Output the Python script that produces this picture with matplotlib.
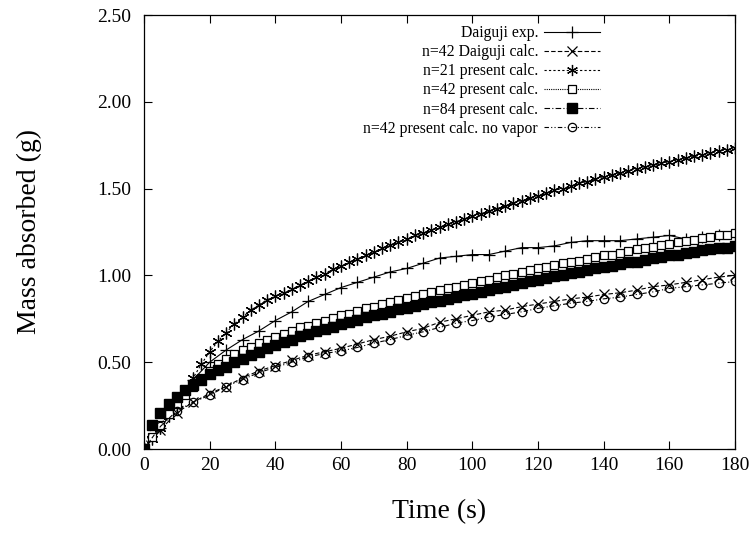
import numpy as np
import matplotlib
matplotlib.use('Agg')
import matplotlib.pyplot as plt
from matplotlib.lines import Line2D

plt.rcParams['font.family'] = ['Liberation Serif', 'DejaVu Serif']

# tempos (s)
t_fino = np.arange(0, 180.1, 2.5)   # 73 pontos
t_grosso = np.arange(0, 180.1, 5)   # 37 pontos

daiguji_exp = [0.00, 0.12, 0.25, 0.40, 0.50, 0.57, 0.63, 0.68, 0.74, 0.79,
               0.85, 0.89, 0.93, 0.96, 0.99, 1.02, 1.04, 1.07, 1.10, 1.11,
               1.12, 1.12, 1.14, 1.16, 1.16, 1.17, 1.19, 1.20, 1.20, 1.20,
               1.21, 1.22, 1.23, 1.21, 1.22, 1.23, 1.24]

daiguji_calc = [0.00, 0.11, 0.21, 0.27, 0.32, 0.36, 0.41, 0.45, 0.48, 0.51,
                0.54, 0.56, 0.58, 0.605, 0.63, 0.65, 0.675, 0.695, 0.73, 0.75,
                0.77, 0.79, 0.80, 0.82, 0.835, 0.85, 0.865, 0.875, 0.89, 0.90,
                0.915, 0.935, 0.945, 0.96, 0.975, 0.99, 1.00]

sem_vapor = [0.00, 0.13, 0.22, 0.27, 0.31, 0.36, 0.40, 0.44, 0.47, 0.50,
             0.53, 0.55, 0.565, 0.585, 0.61, 0.63, 0.655, 0.675, 0.70, 0.725,
             0.74, 0.76, 0.775, 0.79, 0.81, 0.825, 0.84, 0.85, 0.865, 0.875,
             0.89, 0.905, 0.925, 0.935, 0.945, 0.955, 0.965]

n21 = [0.00, 0.06, 0.12, 0.19, 0.26, 0.33, 0.41, 0.49, 0.56, 0.62,
       0.67, 0.72, 0.76, 0.80, 0.83, 0.86, 0.88, 0.90, 0.92, 0.945,
       0.965, 0.99, 1.01, 1.035, 1.055, 1.075, 1.095, 1.115, 1.135, 1.155,
       1.175, 1.19, 1.21, 1.23, 1.245, 1.26, 1.28, 1.295, 1.31, 1.325,
       1.34, 1.355, 1.37, 1.385, 1.40, 1.415, 1.43, 1.445, 1.46, 1.475,
       1.49, 1.50, 1.515, 1.53, 1.54, 1.555, 1.565, 1.58, 1.59, 1.60,
       1.615, 1.625, 1.635, 1.645, 1.655, 1.665, 1.675, 1.685, 1.695, 1.705,
       1.715, 1.725, 1.735]

n42 = [0.00, 0.07, 0.14, 0.20, 0.26, 0.31, 0.36, 0.41, 0.45, 0.49,
       0.52, 0.55, 0.57, 0.59, 0.61, 0.63, 0.645, 0.66, 0.68, 0.70,
       0.71, 0.725, 0.74, 0.755, 0.77, 0.78, 0.795, 0.81, 0.82, 0.835,
       0.845, 0.86, 0.87, 0.88, 0.89, 0.905, 0.915, 0.925, 0.935, 0.945,
       0.955, 0.965, 0.975, 0.99, 1.00, 1.01, 1.02, 1.03, 1.04, 1.05,
       1.06, 1.07, 1.08, 1.085, 1.095, 1.105, 1.115, 1.12, 1.13, 1.14,
       1.15, 1.155, 1.165, 1.175, 1.18, 1.19, 1.20, 1.205, 1.215, 1.22,
       1.23, 1.235, 1.245]

n84 = [0.00, 0.14, 0.21, 0.26, 0.30, 0.34, 0.37, 0.40, 0.43, 0.455,
       0.475, 0.50, 0.52, 0.54, 0.56, 0.58, 0.60, 0.615, 0.63, 0.65,
       0.665, 0.68, 0.69, 0.705, 0.72, 0.73, 0.745, 0.76, 0.77, 0.78,
       0.79, 0.805, 0.815, 0.825, 0.835, 0.845, 0.855, 0.865, 0.875, 0.885,
       0.895, 0.905, 0.915, 0.925, 0.935, 0.945, 0.955, 0.965, 0.975, 0.985,
       0.995, 1.005, 1.015, 1.02, 1.03, 1.04, 1.05, 1.055, 1.065, 1.075,
       1.08, 1.09, 1.10, 1.105, 1.115, 1.12, 1.13, 1.135, 1.145, 1.15,
       1.155, 1.16, 1.17]

fig = plt.figure(figsize=(7.51, 5.37), dpi=100)
ax = fig.add_axes([144/751, 88/537, 591/751, 434/537])

lw = 0.8
ax.plot(t_grosso, daiguji_exp, color='k', lw=lw, ls='-', marker='+', ms=8, mew=0.9,
        label='Daiguji exp.')
ax.plot(t_grosso, daiguji_calc, color='k', lw=lw, ls=(0, (4, 2)), marker='x', ms=6.5, mew=0.9,
        label='n=42 Daiguji calc.')
ax.plot(t_fino, n21, color='k', lw=lw, ls=(0, (2, 2)), marker=(6, 2, 0), ms=8.5, mew=0.9)
ax.plot(t_fino, n42, color='k', lw=lw, ls=(0, (1, 1)), marker='s', ms=5.5, mfc='white',
        mec='k', mew=0.9, label='n=42 present calc.')
ax.plot(t_fino, n84, color='k', lw=lw, ls=(0, (5, 2, 1, 2)), marker='s', ms=6.5, mfc='k',
        mec='k', label='n=84 present calc.')
ax.plot(t_grosso, sem_vapor, color='k', lw=lw, ls=(0, (4, 2, 1, 2, 1, 2)), marker='o', ms=6,
        mfc='none', mec='k', mew=0.9, label='n=42 present calc. no vapor')

# legenda com o asterisco desenhado como no original
h_star = Line2D([], [], color='k', lw=lw, ls=(0, (2, 2)), marker=(6, 2, 0), ms=8, mew=0.9)
handles, labels = ax.get_legend_handles_labels()
handles.insert(2, h_star)
labels.insert(2, 'n=21 present calc.')

leg = ax.legend(handles, labels, loc='upper right', bbox_to_anchor=(600/751, 1 - 25/537),
                bbox_transform=fig.transFigure, frameon=False, markerfirst=False,
                numpoints=1, fontsize=11.3, handlelength=3.6, handletextpad=0.35,
                labelspacing=0.2, borderpad=0, borderaxespad=0)

ax.set_xlim(0, 180)
ax.set_ylim(0, 2.5)
ax.set_xticks(np.arange(0, 181, 20))
ax.set_yticks(np.arange(0, 2.51, 0.5))
ax.set_yticklabels(['%.2f' % v for v in np.arange(0, 2.51, 0.5)])
ax.tick_params(direction='in', length=6, width=0.8, top=True, right=True,
               labelsize=14, pad=6)
ax.tick_params(axis='y', pad=9)
for s in ax.spines.values():
    s.set_linewidth(0.9)

ax.set_xlabel('Time (s)', fontsize=20, labelpad=18)
ax.set_ylabel('Mass absorbed (g)', fontsize=20, labelpad=40)

fig.savefig('out.png', dpi=100)
